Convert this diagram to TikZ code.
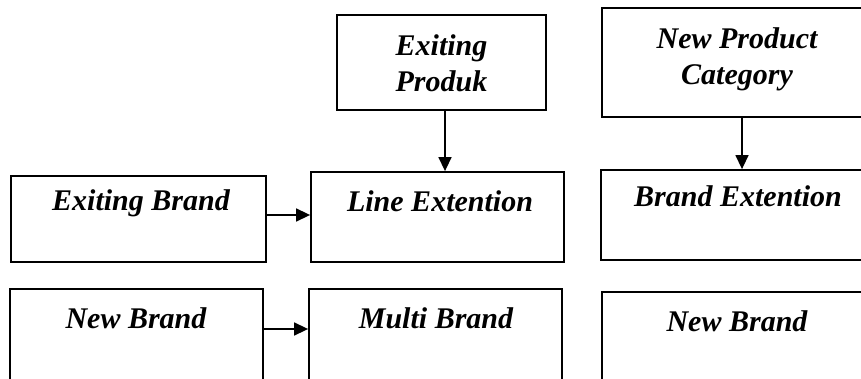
\documentclass[tikz,border=0pt]{standalone}
\usepackage{fontspec}
\setmainfont{Liberation Serif}
\usetikzlibrary{arrows.meta}
\begin{document}
\begin{tikzpicture}[x=1pt,y=-1pt,
  box/.style={draw=black,line width=1.8pt,rectangle,inner sep=0pt},
  lbl/.style={font=\fontsize{30}{36}\selectfont\bfseries\itshape,inner sep=0pt,align=center,anchor=base},
  arr/.style={draw=black,line width=1.5pt,-{Triangle[length=14pt,width=13pt]}}]
\useasboundingbox (0,0) rectangle (861,379);
\fill[white] (0,0) rectangle (861,379);
\clip (0,0) rectangle (861,379);
% boxes
\node[box,minimum width=209pt,minimum height=95pt] (ep) at (441.5,62.5) {};
\node[box,minimum width=273pt,minimum height=109pt] (npc) at (738.5,62.5) {};
\node[box,minimum width=255pt,minimum height=86pt] (eb) at (138.5,219) {};
\node[box,minimum width=253pt,minimum height=90pt] (le) at (437.5,217) {};
\node[box,minimum width=274pt,minimum height=90pt] (be) at (738,215) {};
\node[box,minimum width=253pt,minimum height=96pt] (nb) at (136.5,337) {};
\node[box,minimum width=253pt,minimum height=96pt] (mb) at (435.5,337) {};
\node[box,minimum width=273pt,minimum height=93pt] (nb2) at (738.5,338.5) {};
% labels
\node[lbl] (tep) at (441.5,92) {Exiting\\Produk};
\node[lbl] (tnpc) at (737,85) {New Product\\Category};
\node[lbl] (teb) at (141,211) {Exiting Brand};
\node[lbl] (tle) at (440,212) {Line Extention};
\node[lbl] (tbe) at (738,207) {Brand Extention};
\node[lbl] (tnb) at (136,328) {New Brand};
\node[lbl] (tmb) at (436,328) {Multi Brand};
\node[lbl] (tnb2) at (737,331) {New Brand};
% connectors
\draw[arr] ([xshift=3.5pt]ep.south) -- ([xshift=7.5pt]le.north);
\draw[arr] ([xshift=3.5pt]npc.south) -- ([xshift=4pt]be.north);
\draw[arr] ([yshift=4pt]eb.east) -- ([yshift=2pt]le.west);
\draw[arr] ([yshift=8pt]nb.east) -- ([yshift=8pt]mb.west);
\end{tikzpicture}
\end{document}
